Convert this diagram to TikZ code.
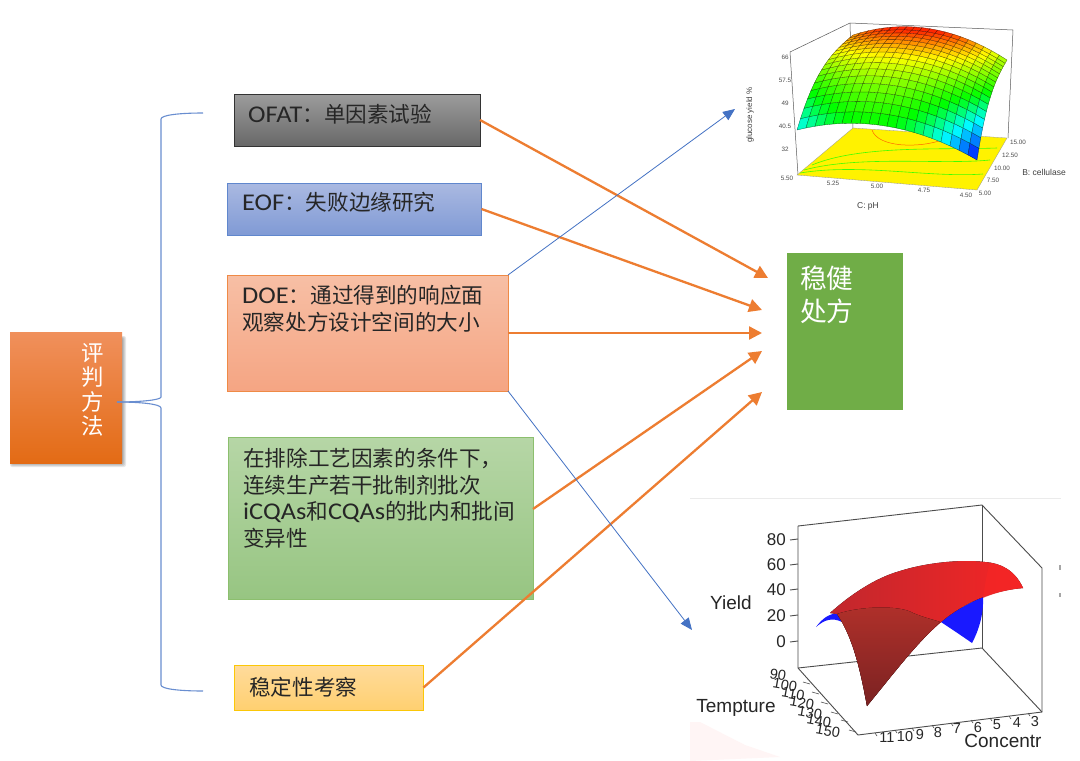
\documentclass[tikz,border=0pt]{standalone}
\usepackage{fontspec}
\setmainfont[FakeStretch=1.1]{Carlito}
\newfontfamily\cjk[Scale=0.9]{Noto Sans CJK SC}
\newfontfamily\lib{Liberation Sans}
\usetikzlibrary{arrows.meta}
\definecolor{arrorange}{HTML}{ED7D31}
\definecolor{arrblue}{HTML}{4472C4}
\definecolor{txtc}{HTML}{262626}
\definecolor{ofatT}{HTML}{9C9C9C}\definecolor{ofatB}{HTML}{686868}
\definecolor{eofT}{HTML}{AAB9E1}\definecolor{eofB}{HTML}{809AD5}
\definecolor{doeT}{HTML}{F7BFA5}\definecolor{doeB}{HTML}{F5A583}
\definecolor{grnT}{HTML}{B6D6A6}\definecolor{grnB}{HTML}{97C582}\definecolor{grnD}{HTML}{8CBF6E}
\definecolor{stabT}{HTML}{FFDB9C}\definecolor{stabB}{HTML}{FFD070}
\definecolor{evalT}{HTML}{F0905C}\definecolor{evalM}{HTML}{F57D2A}\definecolor{evalB}{HTML}{E36B15}
\definecolor{robc}{HTML}{70AD47}
\definecolor{redL}{HTML}{C1272D}\definecolor{redR}{HTML}{F52525}
\definecolor{facT}{HTML}{B0302A}\definecolor{facB}{HTML}{7A2222}
\tikzset{
  flow/.style={draw=arrorange,line width=2.3pt,-{Triangle[length=13pt,width=13pt]}},
  thin blue/.style={draw=arrblue,line width=0.8pt,-{Triangle[length=12pt,width=10pt]}},
  bracketline/.style={draw=arrblue!80!white,line width=1.1pt},
  boxbase/.style={rectangle,anchor=north west,inner sep=0pt,outer sep=0pt,line width=0.9pt},
  boxtext/.style={anchor=north west,inner sep=0pt,align=left,text=txtc,font=\fontsize{24}{27}\selectfont},
  plotline/.style={draw=black!65,line width=0.5pt},
  tickA/.style={font=\lib\fontsize{6.3}{7}\selectfont,text=black!70,inner sep=0pt},
  labA/.style={font=\lib\fontsize{8.5}{9}\selectfont,text=black!75,inner sep=0pt},
  tickB/.style={font=\lib\fontsize{17}{17}\selectfont,text=black!85,inner sep=0pt},
  tickC/.style={font=\lib\fontsize{14.5}{15}\selectfont,text=black!85,inner sep=0pt},
  labB/.style={font=\lib\fontsize{19}{19}\selectfont,text=black!85,inner sep=0pt},
  axB/.style={draw=black!70,line width=0.9pt},
}
\begin{document}
\begin{tikzpicture}[x=1pt,y=-1pt,
  declare function={
    zz(\u,\v)=105-75*(\u-0.4)*(\u-0.4)-48*(1-\v)*(1-\v)*(1-\v);
    bx(\u,\v)=(1-\v)*((1-\u)*797+\u*977)+\v*((1-\u)*853+\u*1007);
    by(\u,\v)=(1-\v)*((1-\u)*175+\u*190)+\v*((1-\u)*128+\u*138)-zz(\u,\v);
    ss(\u,\v)=1-2*(\u-0.4)*(\u-0.4)-exp((1+2.33*(\u-0.4)*(\u-0.4))*ln(1-\v));
  }]
\useasboundingbox (0,0) rectangle (1080,761);
\fill[white] (0,0) rectangle (1080,761);

% ---- top response surface
\draw[plotline] (790,52) -- (850,23) -- (1013,30) -- (1008,138);
\draw[plotline] (790,52) -- (798,175);
\draw[plotline] (850,23) -- (853,128);
\fill[yellow,draw=black!40,line width=0.3pt] (797,175) -- (853,128) -- (1007,138) -- (977,190) -- cycle;
\draw[orange!80!red,line width=0.5pt] (872,130) .. controls (878,148) and (920,148) .. (942,140);
\draw[green!75!yellow,line width=0.6pt] (812,165) .. controls (860,145) and (940,150) .. (997,148);
\draw[green!75!yellow,line width=0.6pt] (804,170) .. controls (860,155) and (940,165) .. (990,160);
\draw[green!75!yellow,line width=0.6pt] (800,173) .. controls (860,163) and (930,178) .. (983,174);
\foreach \i in {0,...,19}{
  \foreach \j in {0,...,15}{
    \pgfmathsetmacro{\ua}{\i/20}\pgfmathsetmacro{\ub}{(\i+1)/20}
    \pgfmathsetmacro{\va}{\j/16}\pgfmathsetmacro{\vb}{(\j+1)/16}
    \pgfmathsetmacro{\sc}{ss((\ua+\ub)/2,(\va+\vb)/2)}
    \pgfmathsetmacro{\cr}{\sc<0?0:(\sc<0.5?\sc/0.5:1)}
    \pgfmathsetmacro{\cg}{\sc<-0.7?0:(\sc<-0.3?(\sc+0.7)/0.4:(\sc<0.5?1:max(0.15,1-(\sc-0.5)/0.5)))}
    \pgfmathsetmacro{\cb}{\sc<-0.3?1:(\sc<0?-\sc/0.3:0)}
    \definecolor{meshc}{rgb}{\cr,\cg,\cb}
    \filldraw[fill=meshc,draw=black!60!meshc,line width=0.3pt]
      ({bx(\ua,\va)},{by(\ua,\va)}) -- ({bx(\ub,\va)},{by(\ub,\va)}) --
      ({bx(\ub,\vb)},{by(\ub,\vb)}) -- ({bx(\ua,\vb)},{by(\ua,\vb)}) -- cycle;
  }
}
\foreach \t/\y/\n in {66/57/a,57.5/80/b,49/103/c,40.5/126/d,32/149/e}
  \node[tickA] (ta\n) at (785,\y) {\t};
\foreach \t/\x/\y/\n in {5.50/787/178/a,5.25/833/183/b,5.00/877/186/c,4.75/924/190/d,4.50/966/195/e}
  \node[tickA] (tb\n) at (\x,\y) {\t};
\foreach \t/\x/\y/\n in {15.00/1018/142/a,12.50/1010/155/b,10.00/1002/168/c,7.50/993/180/d,5.00/985/193/e}
  \node[tickA] (tc\n) at (\x,\y) {\t};
\node[labA,rotate=90,font=\lib\fontsize{8}{9}\selectfont] (glu) at (750,115) {glucose yield \%};
\node[labA] (cph) at (868,206) {C: pH};
\node[labA] (bcel) at (1044,172) {B: cellulase};

% ---- lower response surface
\draw[black!8,line width=0.8pt] (690,498) -- (1061,498);
\fill[red!4] (690,722) -- (700,722) -- (745,745) -- (780,757) -- (690,761) -- cycle;
\fill[black!35] (1059,565) rectangle (1061,570);
\fill[black!35] (1059,593) rectangle (1061,597);
\draw[axB] (982,505) -- (982,648);
\draw[axB] (798,668) -- (982,648) -- (1042,712);
\draw[axB] (798,526) -- (982,505) -- (1042,568) -- (1042,712) -- (858,735) -- (798,668) -- (798,526);
\fill[blue!90!white] (816,627) .. controls (822,619) and (828,614) .. (838,613) -- (842,622) .. controls (832,617) and (824,620) .. (816,627) -- cycle;
\fill[blue!90!white] (938,620) -- (983,596) .. controls (984,615) and (978,632) .. (972,643) .. controls (962,636) and (950,628) .. (938,620) -- cycle;
\fill[left color=redL,right color=redR]
  (830,613) .. controls (850,595) and (875,578) .. (900,571) .. controls (925,563) and (960,559) .. (985,562)
  .. controls (1000,563) and (1015,570) .. (1023,588) .. controls (1000,590) and (975,597) .. (950,615)
  .. controls (925,633) and (900,665) .. (867,706) .. controls (862,680) and (855,640) .. (837,614) -- cycle;
\fill[top color=facT,bottom color=facB]
  (837,614) .. controls (860,606) and (900,605) .. (913,613) .. controls (925,618) and (935,620) .. (940,622)
  .. controls (915,645) and (895,672) .. (867,706) .. controls (862,680) and (855,640) .. (837,614) -- cycle;
\fill[redR,opacity=.75] (990,563) .. controls (1005,565) and (1015,572) .. (1023,588) .. controls (1008,589) and (992,594) .. (983,598) .. controls (985,585) and (987,572) .. (990,563) -- cycle;
\foreach \t/\y/\n in {80/540/a,60/565/b,40/590/c,20/616/d,0/642/e}{
  \node[tickB,anchor=east] (yt\n) at (786,\y) {\t};
  \draw[axB] (790,\y) -- (798,\y-1);
}
\foreach \t/\x/\y/\n in {90/778/675/a,100/785/685/b,110/793/694/c,120/802/703/d,130/810/713/e,140/819/721/f,150/828/731/g}
  \node[tickC,rotate=-10] (tt\n) at (\x,\y) {\t};
\foreach \x/\y in {803/682,812/692,821/702,831/712,841/720,849/730}
  \draw[axB,line width=0.6pt] (\x,\y) -- (\x+7,\y+2);
\foreach \t/\x/\y/\n in {11/887/738/a,10/905/736/b,9/920/734/c,8/938/732/d,7/957/729/e,6/978/727/f,5/997/725/g,4/1017/723/h,3/1035/721/i}
  \node[tickC] (tx\n) at (\x,\y) {\t};
\foreach \x/\y in {875/733,895/730,912/728,932/725,951/723,971/720,990/718,1009/716,1028/713}
  \draw[axB,line width=0.6pt] (\x,\y) -- (\x+2,\y+3);
\node[labB] (yld) at (731,603) {Yield};
\node[labB] (tem) at (736,708) {Tempture};
\node[labB] (con) at (1003,741) {Concentr};

% ---- boxes
\node[boxbase,minimum width=246pt,minimum height=52pt,draw=black!80,top color=ofatT,bottom color=ofatB] (ofat) at (234,94) {};
\node[boxbase,minimum width=254pt,minimum height=52pt,draw=arrblue!85,top color=eofT,bottom color=eofB] (eof) at (227.5,183) {};
\node[boxbase,minimum width=280.5pt,minimum height=116pt,draw=arrorange!90,top color=doeT,bottom color=doeB] (doe) at (227.5,275) {};
\node[boxbase,minimum width=304.5pt,minimum height=162pt,draw=grnD,top color=grnT,bottom color=grnB] (grn) at (228.5,437) {};
\node[boxbase,minimum width=189pt,minimum height=45pt,draw=yellow!60!orange,top color=stabT,bottom color=stabB] (stab) at (234.5,665) {};
\foreach \s in {0,...,4}
  \fill[black,opacity=.09,rounded corners=2pt] (10+\s*0.5,336+\s*0.5) rectangle (126-\s,467-\s);
\node[boxbase,minimum width=112pt,minimum height=131pt,top color=evalT,middle color=evalM,bottom color=evalB] (eval) at (10,332) {};
\node[boxbase,minimum width=116pt,minimum height=157pt,fill=robc] (rob) at (787,253) {};

% ---- texts
\node[boxtext] (t1) at (248,104) {OFAT\cjk：单因素试验};
\node[boxtext] (t2) at (242,192) {EOF\cjk：失败边缘研究};
\node[boxtext] (t3) at (242,285) {DOE\cjk：通过得到的响应面\\\cjk 观察处方设计空间的大小};
\node[boxtext,font=\fontsize{24}{26.5}\selectfont] (t4) at (243,448) {\cjk 在排除工艺因素的条件下，\\\cjk 连续生产若干批制剂批次\\iCQAs{\cjk 和}CQAs{\cjk 的批内和批间}\\\cjk 变异性};
\node[boxtext] (t5) at (249,677) {\cjk 稳定性考察};
\node[anchor=north,inner sep=0pt,align=center,text=white,font=\cjk\fontsize{24.9}{24.4}\selectfont] (t6) at (93,343) {评\\判\\方\\法};
\node[anchor=north west,inner sep=0pt,align=left,text=white,font=\cjk\fontsize{29.7}{33}\selectfont] (t7) at (800,266) {稳健\\处方};

% ---- bracket
\coordinate (brTop) at (203,113);
\coordinate (brBot) at (203,691);
\coordinate (brMid) at (117,402);
\draw[bracketline] (brTop) .. controls (180,113) and (161,115) .. (161,119) -- (161,397) .. controls (161,400) and (140,402) .. (brMid);
\draw[bracketline] (brMid) .. controls (140,402) and (161,404) .. (161,408) -- (161,685) .. controls (161,689) and (180,691) .. (brBot);

% ---- connectors
\coordinate (target1) at (768,278);
\coordinate (target2) at (762,310);
\coordinate (target3) at (762,333);
\coordinate (target4) at (762,351);
\coordinate (target5) at (762,392);
\coordinate (imgA) at (735,109);
\coordinate (imgB) at (692,630);
\draw[flow] (ofat.east) -- (target1);
\draw[flow] (eof.east) -- (target2);
\draw[flow] (doe.east) -- (target3);
\draw[flow] ([yshift=9pt]grn.east) -- (target4);
\draw[flow] (stab.east) -- (target5);
\draw[thin blue] (doe.north east) -- (imgA);
\draw[thin blue] (doe.south east) -- (imgB);
\end{tikzpicture}
\end{document}
